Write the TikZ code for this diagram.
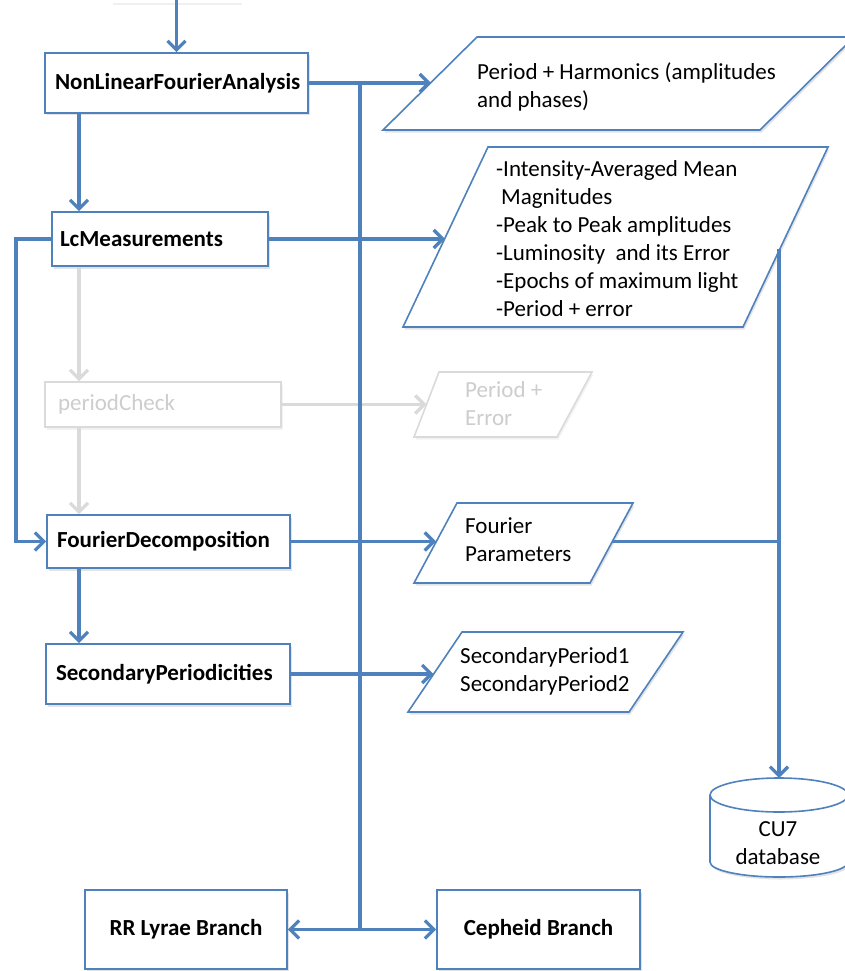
\documentclass[tikz,border=0pt]{standalone}
\usepackage{fontspec}
\setmainfont{Carlito}
\usetikzlibrary{arrows.meta,shadows,calc}
\definecolor{ublue}{RGB}{79,129,189}
\definecolor{lgrey}{RGB}{218,218,218}
\definecolor{tgrey}{RGB}{205,205,205}
\tikzset{
  shd/.style={drop shadow={opacity=0.22,shadow xshift=1.5pt,shadow yshift=-2.5pt}},
  lshd/.style={drop shadow={opacity=0.10,shadow xshift=1.5pt,shadow yshift=-2.5pt}},
  conn/.style={draw=ublue, line width=3.3pt, -{Straight Barb[length=9pt,width=18pt]}},
  trunkline/.style={draw=ublue, line width=3.3pt},
  gconn/.style={draw=lgrey, line width=3.3pt, -{Straight Barb[length=9pt,width=18pt]}},
  proc/.style={draw=ublue, line width=1.6pt, fill=white, shd,
    font=\fontsize{23}{28}\selectfont\bfseries, align=left,
    inner xsep=10pt, inner ysep=0pt},
  gproc/.style={draw=lgrey, line width=1.6pt, fill=white, lshd, text=tgrey,
    font=\fontsize{23}{28}\selectfont, align=left,
    inner xsep=13pt, inner ysep=0pt},
  para/.style={draw=ublue, line width=1.6pt, fill=white, shd},
  gpara/.style={draw=lgrey, line width=1.6pt, fill=white, lshd},
  ptext/.style={font=\fontsize{23}{28}\selectfont, align=left, inner sep=0pt},
  cyl/.style={draw=ublue, line width=1.6pt}
}
\begin{document}
\begin{tikzpicture}[x=1pt,y=-1pt]
\useasboundingbox (0,0) rectangle (845,971);
% faint trace of a box above the picture
\draw[black!6, line width=2pt] (113,4) -- (242,4);

% process boxes
\node[proc, text width=243pt, minimum height=60pt] (nlfa) at (176.5,83) {NonLinearFourierAnalysis};
\node[proc, inner xsep=8pt, text width=200pt, minimum height=54pt] (lcm) at (160,239) {LcMeasurements};
\node[gproc, text width=210pt, minimum height=45pt] (pc) at (163,404.5) {periodCheck};
\node[proc, text width=223pt, minimum height=53pt] (fd) at (168.5,541.5) {FourierDecomposition};
\node[proc, text width=224pt, minimum height=60pt] (sp) at (168,674) {SecondaryPeriodicities};
\node[proc, align=center, inner xsep=0pt, minimum width=202pt, minimum height=79pt] (rr) at (186,929.5) {RR Lyrae Branch};
\node[proc, align=center, inner xsep=0pt, minimum width=203pt, minimum height=79pt] (ceph) at (538.5,929.5) {Cepheid Branch};

% data parallelograms
\draw[para] (477,37) -- (854,37) -- (760,130) -- (383,130) -- cycle;
\node[ptext, anchor=west] (t1) at (477,87) {Period + Harmonics (amplitudes\\and phases)};

\draw[para] (488,147) -- (828,147) -- (743,327) -- (403,327) -- cycle;
\node[ptext, anchor=west] (t2) at (496,239) {-Intensity-Averaged Mean\\\hspace*{5pt}Magnitudes\\-Peak to Peak amplitudes\\-Luminosity\ \ and its Error\\-Epochs of maximum light\\-Period + error};

\draw[gpara] (439,372) -- (592,372) -- (557,437) -- (414,437) -- cycle;
\node[ptext, anchor=west, text=tgrey] (t3) at (465,404) {Period +\\Error};

\draw[para] (457,503) -- (633,503) -- (590,583) -- (414,583) -- cycle;
\node[ptext, anchor=west] (t4) at (465,540) {Fourier\\Parameters};

\draw[para] (462,632) -- (683,632) -- (629,712) -- (408,712) -- cycle;
\node[ptext, anchor=west] (t5) at (460,671) {SecondaryPeriod1\\SecondaryPeriod2};

% database cylinder
\path[fill=white, shd] (710,795) -- (710,862) arc[start angle=180,end angle=360,x radius=69pt,y radius=15pt]
  -- (848,795) arc[start angle=0,end angle=180,x radius=69pt,y radius=17pt] -- cycle;
\draw[cyl] (710,795) -- (710,862) arc[start angle=180,end angle=360,x radius=69pt,y radius=15pt] -- (848,795);
\draw[cyl] (779,795) ellipse [x radius=69pt, y radius=17pt];
\node[ptext, align=center] (db) at (778,843) {CU7\\database};

% coordinates
\coordinate (colx) at (79,0);
\coordinate (fbx) at (16,0);
\coordinate (top) at (176.5,0);
\coordinate (p1in) at (431,83);
\coordinate (p2in) at (445,239);
\coordinate (pgin) at (426.5,404.5);
\coordinate (fpin) at (436,541.5);
\coordinate (p4in) at (433.5,674);
\coordinate (trunk) at (360,83);
\coordinate (bj) at (360,929.5);
\coordinate (fpout) at (612,541.5);
\coordinate (p2out) at (779,249);
\coordinate (cyltop) at (779,778);

% grey connectors
\draw[gconn] (lcm.south -| colx) -- (pc.north -| colx);
\draw[gconn] (pc.south -| colx) -- (fd.north -| colx);
\draw[gconn] (pc.east) -- (pgin);

% blue connectors
\draw[conn] (top) -- (nlfa.north);
\draw[conn] (nlfa.south -| colx) -- (lcm.north -| colx);
\draw[conn] (nlfa.east) -- (p1in);
\draw[trunkline] (trunk) -- (bj);
\draw[conn] (bj) -- (rr.east);
\draw[conn] (bj) -- (ceph.west);
\draw[conn] (lcm.east) -- (p2in);
\draw[conn] (lcm.west) -- (lcm.west -| fbx) |- (fd.west);
\draw[conn] (fd.east) -- (fpin);
\draw[conn] (fd.south -| colx) -- (sp.north -| colx);
\draw[conn] (sp.east) -- (p4in);
\draw[trunkline] (fpout) -- (fpout -| p2out);
\draw[conn] (p2out) -- (cyltop);
\end{tikzpicture}
\end{document}
